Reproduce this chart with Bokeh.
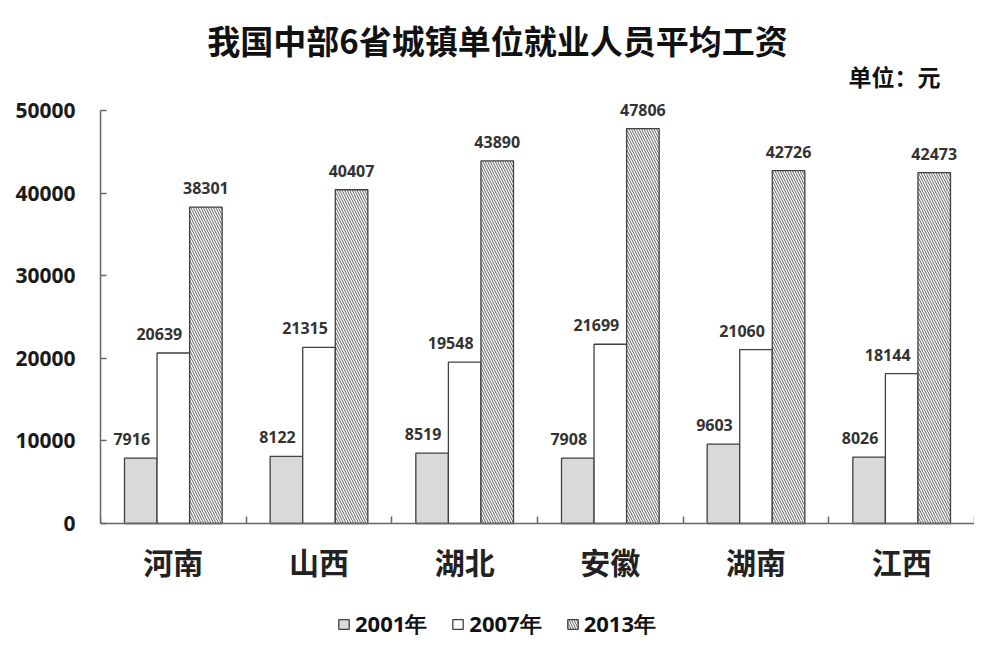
from bokeh.plotting import figure
from bokeh.models import (ColumnDataSource, Range1d, FixedTicker, LabelSet, Label,
                          Legend, LegendItem, NumeralTickFormatter)
from bokeh.core.properties import value
from bokeh.embed import file_html
from bokeh.resources import INLINE

# ---- data ----
provinces = ["河南", "山西", "湖北", "安徽", "湖南", "江西"]
years = ["2001年", "2007年", "2013年"]
wage_2001 = [7916, 8122, 8519, 7908, 9603, 8026]
wage_2007 = [20639, 21315, 19548, 21699, 21060, 18144]
wage_2013 = [38301, 40407, 43890, 47806, 42726, 42473]
y_ticks = [0, 10000, 20000, 30000, 40000, 50000]
title_text = "我国中部6省城镇单位就业人员平均工资"
unit_text = "单位：元"

W, H = 974, 640
n = len(provinces)
LEFT = 100
ZERO_PX = 523            # pixel row of the value 0
PX_PER_UNIT = 413 / 50000
Y_TOP = ZERO_PX / PX_PER_UNIT
Y_BOTTOM = -(H - ZERO_PX) / PX_PER_UNIT
X_PX = (W - LEFT) / n


def data_y(px):
    return (ZERO_PX - px) / PX_PER_UNIT


def data_x(px):
    return (px - LEFT) / X_PX


NUM_FONT = "Open Sans"
CJK_FONT = "Noto Sans CJK SC"

p = figure(width=W, height=H, output_backend="svg", toolbar_location=None,
           x_range=Range1d(0, n), y_range=Range1d(Y_BOTTOM, Y_TOP),
           min_border_left=LEFT, min_border_right=0, min_border_top=0,
           min_border_bottom=0)
p.outline_line_color = None
p.xgrid.grid_line_color = None
p.ygrid.grid_line_color = None
p.background_fill_color = "white"
p.border_fill_color = "white"

bw = 0.2235
series = [wage_2001, wage_2007, wage_2013]
styles = [
    dict(fill_color="#d9d9d9"),
    dict(fill_color="white"),
    dict(fill_color="white", hatch_pattern="\\", hatch_color="#606060",
         hatch_scale=5, hatch_weight=1),
]
label_dx = [-9, -14, 0]

legend_items = []
for k, (yr, vals, st) in enumerate(zip(years, series, styles)):
    xs = [i + 0.5 + (k - 1) * bw for i in range(n)]
    src = ColumnDataSource(dict(x=xs, top=vals, txt=[str(v) for v in vals]))
    r = p.vbar(x="x", top="top", width=bw, source=src, line_color="#404040",
               line_width=1.3, **st)
    legend_items.append(LegendItem(label=yr, renderers=[r]))
    labels = LabelSet(x="x", y="top", text="txt", source=src, x_offset=label_dx[k],
                      y_offset=19, text_align="center", text_baseline="middle",
                      text_font=value(NUM_FONT), text_font_style="bold",
                      text_font_size="16px", text_color="#333333")
    p.add_layout(labels)

# x axis drawn at value 0
xa = p.xaxis[0]
xa.fixed_location = 0
xa.ticker = FixedTicker(ticks=[i + 0.5 for i in range(n)],
                        minor_ticks=list(range(n + 1)))
xa.major_label_overrides = {i + 0.5: provinces[i] for i in range(n)}
xa.major_tick_in = 0
xa.major_tick_out = 0
xa.minor_tick_in = 7
xa.minor_tick_out = 0
xa.minor_tick_line_color = "#666666"
xa.minor_tick_line_width = 1.5
xa.axis_line_color = "#666666"
xa.axis_line_width = 1.5
xa.major_label_text_font = CJK_FONT
xa.major_label_text_font_style = "bold"
xa.major_label_text_font_size = "30px"
xa.major_label_text_color = "#222222"
xa.major_label_standoff = 15

ya = p.yaxis[0]
ya.ticker = FixedTicker(ticks=y_ticks)
ya.bounds = (y_ticks[0], y_ticks[-1])
ya.formatter = NumeralTickFormatter(format="0")
ya.major_tick_in = 6
ya.major_tick_out = 0
ya.minor_tick_line_color = None
ya.major_tick_line_color = "#666666"
ya.major_tick_line_width = 1.5
ya.axis_line_color = "#666666"
ya.axis_line_width = 1.5
ya.major_label_text_font = NUM_FONT
ya.major_label_text_font_style = "bold"
ya.major_label_text_font_size = "21px"
ya.major_label_text_color = "#1a1a1a"
ya.major_label_standoff = 25

p.add_layout(Label(x=data_x(497), y=data_y(39), text=title_text, text_align="center",
                   text_baseline="middle", text_font=CJK_FONT,
                   text_font_style="bold", text_font_size="33px",
                   text_color="#111111"))
p.add_layout(Label(x=data_x(940), y=data_y(75), text=unit_text, text_align="right",
                   text_baseline="middle", text_font=CJK_FONT,
                   text_font_style="bold", text_font_size="23px",
                   text_color="#111111"))

legend = Legend(items=legend_items, orientation="horizontal",
                location=(337 - LEFT, 0),
                glyph_width=13, glyph_height=12, label_standoff=5, spacing=24,
                padding=0, margin=0, border_line_color=None,
                background_fill_alpha=0, label_text_font=NUM_FONT,
                label_text_font_style="bold", label_text_font_size="22px",
                label_text_color="#111111")
p.add_layout(legend)

open("out.html", "w").write(file_html(p, INLINE))
